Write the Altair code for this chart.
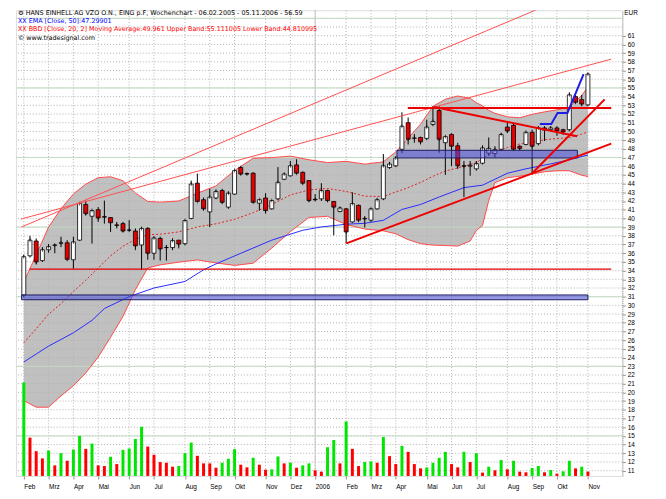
import json
import altair as alt
import pandas as pd

# ---------------- data (weekly candles, index 0 = week of 06.02.2005) ----------------
opens = [31.2, 35.7, 37.4, 35.15, 36.4, 36.9, 37.15, 37.2, 35.25, 37.5,
         41.6, 40.25, 41.0, 40.2, 40.1, 39.25, 39.4, 38.65, 38.55, 36.95,
         38.85, 36.0, 37.7, 36.65, 36.65, 37.5, 37.1, 40.0, 44.05, 42.15,
         40.75, 42.35, 43.2, 41.3, 42.8, 45.85, 45.15, 45.2, 41.75, 42.35,
         41.1, 42.25, 44.5, 44.9, 46.15, 45.3, 44.35, 42.2, 42.25, 43.2,
         41.95, 40.8, 41.1, 39.6, 41.5, 39.95, 39.8, 41.1, 42.25, 45.85,
         46.05, 47.95, 51.0, 49.2, 49.3, 49.2, 50.8, 52.4, 48.7, 49.65,
         48.35, 46.05, 46.0, 45.7, 46.35, 47.5, 47.45, 47.95, 50.5, 50.7,
         48.3, 48.5, 49.9, 48.6, 50.4, 50.2, 50.4, 50.2, 50.2, 54.0,
         53.65, 53.05]
highs = [35.8, 38.0, 37.7, 36.7, 37.05, 37.05, 37.9, 37.5, 37.9, 41.9,
         42.05, 41.0, 41.3, 42.05, 40.15, 39.6, 39.6, 39.8, 38.85, 39.0,
         39.0, 37.9, 37.9, 36.95, 37.7, 37.5, 39.85, 44.35, 45.15, 42.4,
         43.4, 43.3, 43.4, 43.1, 45.6, 46.05, 45.2, 45.3, 42.2, 42.9,
         42.1, 45.9, 45.2, 46.6, 46.8, 45.4, 44.4, 42.8, 44.05, 43.3,
         42.0, 41.3, 41.2, 43.0, 41.6, 40.25, 41.2, 42.3, 47.4, 46.5,
         47.1, 52.2, 51.6, 49.7, 49.4, 51.35, 52.9, 52.9, 49.5, 49.8,
         48.7, 46.6, 46.6, 46.6, 48.4, 49.3, 48.3, 49.8, 51.0, 50.9,
         48.4, 50.0, 50.2, 50.6, 50.6, 50.6, 50.6, 50.3, 54.5, 54.5,
         54.2, 56.7]
lows = [30.9, 35.5, 34.7, 35.0, 36.05, 36.0, 36.7, 35.15, 34.2, 37.4,
        40.35, 37.1, 39.6, 39.4, 38.45, 38.85, 38.45, 38.5, 36.35, 34.1,
        35.25, 35.25, 35.15, 35.15, 36.35, 36.55, 36.9, 39.9, 41.9, 40.9,
        39.0, 42.2, 41.7, 41.1, 42.7, 45.0, 45.0, 41.8, 40.9, 40.55,
        41.0, 42.1, 44.4, 44.8, 45.1, 43.9, 41.9, 42.0, 42.0, 41.9,
        38.05, 40.7, 37.1, 39.5, 39.6, 38.95, 39.6, 41.0, 42.1, 45.7,
        45.9, 47.5, 48.5, 48.7, 48.5, 49.0, 50.6, 47.55, 45.0, 46.0,
        45.7, 42.45, 44.9, 45.5, 46.2, 47.2, 47.0, 47.8, 49.8, 47.8,
        47.8, 48.4, 45.1, 48.4, 48.9, 50.0, 49.5, 49.6, 50.0, 53.2,
        52.9, 52.9]
closes = [35.6, 37.5, 35.0, 36.4, 36.75, 36.95, 37.2, 35.3, 37.3, 41.7,
          40.55, 40.9, 40.05, 40.15, 39.5, 39.2, 38.55, 38.65, 36.85, 38.85,
          36.0, 37.75, 36.5, 36.65, 37.45, 37.05, 39.75, 43.95, 41.95, 41.1,
          42.45, 43.1, 41.85, 42.9, 45.5, 45.1, 45.1, 41.85, 42.15, 40.9,
          42.05, 44.15, 45.1, 46.05, 45.2, 44.05, 42.05, 42.15, 43.2, 42.05,
          41.3, 41.2, 38.45, 41.7, 39.8, 40.0, 41.1, 42.15, 46.05, 46.25,
          46.95, 50.6, 49.1, 49.25, 48.8, 50.5, 51.15, 49.1, 49.4, 48.3,
          46.05, 46.0, 46.1, 46.3, 48.1, 48.05, 47.9, 49.65, 50.05, 47.95,
          48.05, 49.9, 48.3, 50.4, 50.15, 50.4, 50.05, 49.95, 54.2, 53.35,
          53.15, 56.59]
volumes = [283, 116, 75, 53, 77, 32, 69, 46, 80, 121,
           82, 98, 32, 30, 58, 36, 79, 83, 112, 149,
           89, 64, 42, 40, 28, 30, 69, 101, 61, 38,
           38, 25, 40, 52, 81, 34, 26, 55, 34, 19,
           20, 59, 38, 40, 25, 32, 38, 17, 13, 87,
           109, 38, 165, 82, 30, 42, 44, 40, 118, 60,
           36, 91, 73, 36, 23, 26, 40, 55, 73, 36,
           26, 73, 42, 69, 10, 28, 17, 48, 20, 46,
           13, 11, 24, 30, 11, 18, 7, 14, 46, 23,
           28, 13]

month_idx = [0, 4, 8, 12, 17, 21, 26, 30, 34, 39, 43, 47, 52, 56, 60, 65, 69, 73, 78, 82, 86, 91]
month_lbl = ["Feb", "Mrz", "Apr", "Mai", "Jun", "Jul", "Aug", "Sep", "Okt", "Nov", "Dez", "2006",
             "Feb", "Mrz", "Apr", "Mai", "Jun", "Jul", "Aug", "Sep", "Okt", "Nov"]
year_idx = [47]

# Bollinger bands (20, 2)
bb_idx = [0, 2, 4, 6, 8, 10, 12, 14, 16, 18, 20, 22, 25, 28, 31, 34, 37, 40, 43, 46, 49, 52,
          55, 58, 60, 62, 64, 66, 68, 70, 72, 73, 74, 75, 76, 78, 80, 82, 84, 86, 88, 90, 91]
bb_upper = [32.7, 35.8, 39.0, 41.1, 42.8, 43.95, 44.68, 44.79, 44.34, 42.92, 41.95, 41.87, 42.0,
            42.9, 43.74, 45.5, 46.92, 46.99, 47.16, 46.74, 46.42, 46.56, 46.24, 46.5, 47.64, 49.23,
            50.83, 52.88, 53.7, 54.07, 53.8, 53.3, 52.94, 52.42, 52.08, 51.68, 51.57, 51.97, 52.25,
            52.48, 52.77, 54.13, 55.11]
bb_lower = [19.05, 18.3, 18.3, 19.6, 20.76, 22.24, 24.06, 26.34, 28.73, 31.81, 34.31, 34.66, 34.97,
            35.23, 34.88, 34.6, 34.85, 36.59, 38.48, 40.11, 40.24, 39.3, 38.78, 38.57, 38.23, 37.56,
            37.1, 36.93, 36.88, 36.82, 37.4, 38.6, 39.19, 42.06, 44.11, 44.68, 44.85, 45.1, 45.36,
            45.48, 45.48, 44.96, 44.81]
bb_mid = [25.7, 27.3, 29.0, 30.2, 31.6, 32.9, 34.3, 35.7, 36.8, 37.6, 38.13, 38.18, 38.45, 39.02,
          39.38, 39.9, 40.66, 41.6, 42.7, 43.28, 43.44, 43.1, 42.56, 42.51, 43.04, 43.54, 44.14,
          44.84, 45.45, 45.8, 46.2, 46.4, 46.9, 47.3, 47.64, 48.15, 48.55, 48.74, 49.04, 49.18,
          49.29, 49.69, 49.96]

# EMA 50
ema_idx = [0, 2, 4, 8, 11, 13, 17, 21, 26, 29, 31, 35, 40, 45, 48, 52, 55, 58, 61, 64, 67, 71,
           74, 78, 81, 85, 88, 91]
ema_val = [23.49, 24.41, 25.32, 26.85, 28.28, 29.64, 31.01, 32.0, 32.75, 34.09, 34.77, 35.99,
           37.5, 38.64, 39.02, 39.33, 39.44, 39.78, 41.03, 41.6, 42.46, 43.54, 43.82, 45.19, 45.7,
           46.27, 46.73, 47.29]

# drawing tools (index, price)
thin_lines = [[(-0.36, 39.02), (84.0, 64.38)], [(-0.47, 39.92), (94.76, 58.31)]]
thick_lines = [[(52.04, 37.13), (94.76, 48.59)], [(81.9, 45.1), (93.7, 53.68)],
               [(66.2, 52.8), (89.26, 49.45)], [(61.95, 52.69), (94.76, 52.69)]]
level_line = [(0.94, 34.17), (94.76, 34.17)]
stop_idx = [83.24, 85.09, 86.1, 87.7, 90.3]
stop_val = [50.86, 50.86, 52.12, 52.12, 56.6]
zones = [(-0.36, 91.0, 30.65, 31.2), (60.2, 89.3, 46.95, 47.83)]

price_ticks = list(range(11, 62))
dotted_levels = list(range(11, 64))
solid_levels = [15, 23, 31, 39, 47, 55, 63]

title_lines = [
    ("\u2699 HANS EINHELL AG VZO O.N., EING p.F, Wochenchart - 06.02.2005 - 05.11.2006 - 56.59", "#000000"),
    ("XX EMA [Close, 50]:47.29901", "#0000ff"),
    ("XX BBD [Close, 20, 2] Moving Average:49.961 Upper Band:55.111005 Lower Band:44.810995", "#ff0000"),
    ("\u00a9 www.tradesignal.com", "#000000"),
]

# ---------------- frames ----------------
n = len(closes)
candles = pd.DataFrame({"i": list(range(n)), "o": opens, "h": highs, "l": lows, "c": closes, "v": volumes})
candles["dir"] = ["up" if c >= o else "down" for o, c in zip(opens, closes)]
candles["vdir"] = ["up"] + ["up" if volumes[k] > volumes[k - 1] else "down" for k in range(1, n)]

bb = pd.DataFrame({"i": bb_idx, "up": bb_upper, "lo": bb_lower, "mid": bb_mid})
ema = pd.DataFrame({"i": ema_idx, "p": ema_val})


def seg_frame(segs):
    rows = []
    for k, s in enumerate(segs):
        for (a, b) in s:
            rows.append({"seg": k, "i": a, "p": b})
    return pd.DataFrame(rows)


thin_df = seg_frame(thin_lines)
thick_df = seg_frame(thick_lines)
level_df = seg_frame([level_line])
stop_df = pd.DataFrame({"i": stop_idx, "p": stop_val})
zone_df = pd.DataFrame(zones, columns=["x1", "x2", "y1", "y2"])

FONT = "Liberation Sans"
HFONT = "DejaVu Sans"
FS = 6.5
HFS = 6.45
xs = alt.Scale(domain=[-0.47, 95.75], nice=False, zero=False)
ys = alt.Scale(domain=[10.396, 63.93], nice=False, zero=False)

label_expr = f"{json.dumps(month_lbl)}[indexof({json.dumps(month_idx)}, datum.value)]"
x_axis = alt.Axis(values=month_idx, labelExpr=label_expr, labelAlign="left", labelFontSize=FS,
                  labelFont=FONT, labelColor="#000000", tickSize=3, tickColor="#909090",
                  grid=False, domain=False, labelPadding=5, labelOverlap=False, labelFlush=False,
                  title=None)
y_axis = alt.Axis(orient="right", values=price_ticks, format="d", labelFontSize=FS, labelFont=FONT,
                  labelColor="#000000", tickSize=3, tickColor="#909090", grid=False,
                  domainColor="#a0a0a0", domainDash=[1, 1], labelPadding=2, labelOverlap=False,
                  title=None)


def X(field="i"):
    return alt.X(f"{field}:Q", scale=xs, axis=x_axis, title=None)


def Y(field):
    return alt.Y(f"{field}:Q", scale=ys, axis=y_axis, title=None)


band = alt.Chart(bb).mark_area(color="#c0c0c0", opacity=1).encode(x=X(), y=Y("up"), y2=alt.Y2("lo"))

hgrid = alt.Chart(pd.DataFrame({"v": dotted_levels})).mark_rule(
    color="#b0b0b0", strokeDash=[1, 2], strokeWidth=1).encode(y=Y("v"))
vgrid = alt.Chart(pd.DataFrame({"m": month_idx})).mark_rule(
    color="#b0b0b0", strokeDash=[1, 2], strokeWidth=1).encode(x=X("m"))
hsolid = alt.Chart(pd.DataFrame({"v": solid_levels})).mark_rule(
    color="#c2dcc2", strokeWidth=1).encode(y=Y("v"))
vsolid = alt.Chart(pd.DataFrame({"m": year_idx})).mark_rule(
    color="#c4c4c4", strokeWidth=1).encode(x=X("m"))

upper_line = alt.Chart(bb).mark_line(color="#ff4a4a", strokeWidth=1).encode(x=X(), y=Y("up"))
lower_line = alt.Chart(bb).mark_line(color="#ff4a4a", strokeWidth=1).encode(x=X(), y=Y("lo"))
mid_line = alt.Chart(bb).mark_line(color="#e02020", strokeWidth=1, strokeDash=[2, 2]).encode(x=X(), y=Y("mid"))
ema_line = alt.Chart(ema).mark_line(color="#2a2aff", strokeWidth=1).encode(x=X(), y=Y("p"))

colors_c = alt.Scale(domain=["up", "down"], range=["#ffffff", "#e80000"])
wick = alt.Chart(candles).mark_rule(color="#000000", strokeWidth=1).encode(x=X(), y=Y("l"), y2=alt.Y2("h"))
body = alt.Chart(candles).mark_bar(size=4, stroke="#000000", strokeWidth=0.8).encode(
    x=X(), y=Y("o"), y2=alt.Y2("c"), fill=alt.Fill("dir:N", scale=colors_c, legend=None))
close_tick = alt.Chart(candles).mark_tick(color="#000000", thickness=0.8, size=4).encode(x=X(), y=Y("c"))

zone = alt.Chart(zone_df).mark_rect(fill="#4848dc", fillOpacity=0.55, stroke="#1c1c5c", strokeWidth=1).encode(
    x=X("x1"), x2=alt.X2("x2"), y=Y("y1"), y2=alt.Y2("y2"))

thin = alt.Chart(thin_df).mark_line(color="#ff5050", strokeWidth=1, clip=True).encode(
    x=X(), y=Y("p"), detail="seg:N")
thick = alt.Chart(thick_df).mark_line(color="#ee0000", strokeWidth=2, clip=True).encode(
    x=X(), y=Y("p"), detail="seg:N")
level = alt.Chart(level_df).mark_line(color="#e00000", strokeWidth=1.5).encode(x=X(), y=Y("p"))
stop = alt.Chart(stop_df).mark_line(color="#1e1ee6", strokeWidth=2).encode(x=X(), y=Y("p"))

texts = []
ypos = [3, 11, 18.7, 28.5]
for (t, col), yp in zip(title_lines, ypos):
    texts.append(alt.Chart(pd.DataFrame({"t": [t]})).mark_text(
        align="left", baseline="middle", font=HFONT, fontSize=HFS, color=col).encode(
        text="t:N", x=alt.value(2), y=alt.value(yp)))
eur = alt.Chart(pd.DataFrame({"t": ["EUR"]})).mark_text(
    align="left", baseline="middle", font=FONT, fontSize=FS, color="#000000").encode(
    text="t:N", x=alt.value(614), y=alt.value(3))

price = alt.layer(band, hgrid, vgrid, hsolid, vsolid, upper_line, lower_line, mid_line, ema_line,
                  wick, body, close_tick, zone, thin, level, thick, stop, *texts, eur)

vol = alt.Chart(candles).mark_bar(size=3).encode(
    x=X(),
    y=alt.Y("v:Q", scale=alt.Scale(domain=[0, 1410], nice=False, zero=True), axis=None, title=None),
    color=alt.Color("vdir:N", scale=alt.Scale(domain=["up", "down"], range=["#00e600", "#ff0000"]), legend=None))

chart = alt.layer(price, vol).resolve_scale(y="independent", color="independent", fill="independent").properties(
    width=612, height=470,
    padding={"left": 8, "top": 0, "right": 36, "bottom": 20},
    autosize=alt.AutoSizeParams(type="none"),
    background="#ffffff",
).configure_view(fill="#f4f4f4", stroke="#b8b8b8").configure(font=FONT)

chart.save("out.html", embed_options={"renderer": "svg", "actions": False})
